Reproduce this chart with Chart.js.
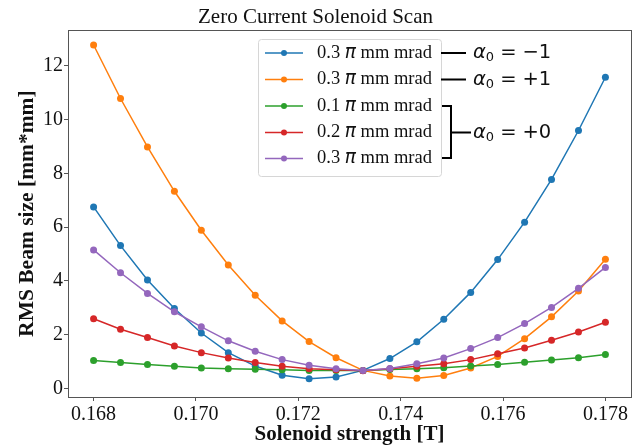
<!DOCTYPE html>
<html>
<head>
<meta charset="utf-8">
<title>Zero Current Solenoid Scan</title>
<script src="https://cdn.jsdelivr.net/npm/chart.js@4.4.1/dist/chart.umd.min.js"></script>
<style>
    html, body { margin: 0; padding: 0; background: #fff; }
    #wrap { width: 637px; height: 445px; }
</style>
</head>
<body>
<div id="wrap"><canvas id="scanChart" width="637" height="445"></canvas></div>
<script>
// solenoid strength [T]
const strength = [0.168000, 0.168526, 0.169053, 0.169579, 0.170105, 0.170632, 0.171158, 0.171684, 0.172211, 0.172737,
                  0.173263, 0.173789, 0.174316, 0.174842, 0.175368, 0.175895, 0.176421, 0.176947, 0.177474, 0.178000];

// RMS beam size [mm*mm]
const alphaMinus1_03 = [6.75, 5.31, 4.03, 2.97, 2.06, 1.33, 0.83, 0.49, 0.36, 0.42, 0.67, 1.11, 1.73, 2.57, 3.57, 4.79, 6.18, 7.77, 9.59, 11.57];
const alphaPlus1_03 = [12.77, 10.78, 8.98, 7.33, 5.88, 4.59, 3.46, 2.51, 1.74, 1.14, 0.67, 0.46, 0.38, 0.48, 0.76, 1.19, 1.85, 2.66, 3.62, 4.80];
const alphaZero_01 = [1.04, 0.96, 0.89, 0.82, 0.76, 0.73, 0.71, 0.69, 0.67, 0.67, 0.67, 0.70, 0.73, 0.77, 0.83, 0.89, 0.97, 1.06, 1.14, 1.26];
const alphaZero_02 = [2.59, 2.20, 1.89, 1.58, 1.33, 1.13, 0.96, 0.82, 0.73, 0.69, 0.66, 0.73, 0.82, 0.92, 1.07, 1.29, 1.50, 1.79, 2.10, 2.46];
const alphaZero_03 = [5.15, 4.30, 3.53, 2.85, 2.29, 1.77, 1.38, 1.07, 0.86, 0.73, 0.67, 0.74, 0.92, 1.13, 1.48, 1.89, 2.41, 3.01, 3.72, 4.50];

const seriesLabels = ['0.3', '0.3', '0.1', '0.2', '0.3'];
const seriesValues = [alphaMinus1_03, alphaPlus1_03, alphaZero_01, alphaZero_02, alphaZero_03];
const seriesColors = ['#1f77b4', '#ff7f0e', '#2ca02c', '#d62728', '#9467bd'];

const xTicks = [0.168, 0.170, 0.172, 0.174, 0.176, 0.178];
const yTicks = [0, 2, 4, 6, 8, 10, 12];

const serif = "'Liberation Serif', 'Times New Roman', serif";
const sans = "'DejaVu Sans', sans-serif";

function makeDataset(i) {
    return {
        label: seriesLabels[i] + ' \u03C0 mm mrad',
        emittance: seriesLabels[i],
        data: strength.map(function (s, k) { return { x: s, y: seriesValues[i][k] }; }),
        borderColor: seriesColors[i],
        backgroundColor: seriesColors[i],
        pointBackgroundColor: seriesColors[i],
        pointBorderWidth: 0,
        pointRadius: 3.5,
        borderWidth: 1.5,
        tension: 0,
        order: 5 - i
    };
}

// frame round the plot area, like matplotlib spines
const framePlugin = {
    id: 'frame',
    afterDatasetsDraw: function (chart) {
        const a = chart.chartArea;
        const ctx = chart.ctx;
        ctx.save();
        ctx.strokeStyle = '#555';
        ctx.lineWidth = 1;
        ctx.strokeRect(Math.round(a.left) + 0.5, Math.round(a.top) + 0.5,
            Math.round(a.right - a.left), Math.round(a.bottom - a.top));
        ctx.restore();
    }
};

// legend box inside the axes plus the alpha_0 notes beside it
const legendPlugin = {
    id: 'insideLegend',
    afterDraw: function (chart) {
        const ctx = chart.ctx;
        const box = { x: 258, y: 39, w: 183, h: 137 };
        const rowY = [53, 79.5, 106, 132.5, 158.5];

        ctx.save();
        ctx.fillStyle = 'rgba(255,255,255,0.85)';
        ctx.strokeStyle = '#d6d6d6';
        ctx.lineWidth = 1;
        ctx.beginPath();
        ctx.roundRect(box.x + 0.5, box.y + 0.5, box.w, box.h, 3);
        ctx.fill();
        ctx.stroke();

        chart.data.datasets.forEach(function (ds, i) {
            const y = rowY[i];
            ctx.strokeStyle = ds.borderColor;
            ctx.lineWidth = 1.5;
            ctx.beginPath();
            ctx.moveTo(265, y);
            ctx.lineTo(303, y);
            ctx.stroke();
            ctx.fillStyle = ds.borderColor;
            ctx.beginPath();
            ctx.arc(284, y, 3, 0, Math.PI * 2);
            ctx.fill();

            ctx.fillStyle = '#111';
            ctx.textBaseline = 'middle';
            ctx.textAlign = 'left';
            let x = 317;
            ctx.font = '18.5px ' + serif;
            ctx.fillText(ds.emittance + ' ', x, y);
            x += ctx.measureText(ds.emittance + ' ').width;
            ctx.font = 'italic 18.5px ' + sans;
            ctx.fillText('\u03C0', x, y);
            x += ctx.measureText('\u03C0').width;
            ctx.font = '18.5px ' + serif;
            ctx.fillText(' mm mrad', x, y);
        });

        // dashes and bracket
        ctx.strokeStyle = '#000';
        ctx.lineWidth = 2;
        ctx.beginPath();
        ctx.moveTo(441, 53); ctx.lineTo(466, 53);
        ctx.moveTo(441, 79.5); ctx.lineTo(466, 79.5);
        ctx.moveTo(442, 106); ctx.lineTo(451, 106); ctx.lineTo(451, 158); ctx.lineTo(442, 158);
        ctx.moveTo(451, 132.5); ctx.lineTo(471, 132.5);
        ctx.stroke();

        const notes = [['\u22121', 53], ['+1', 79.5], ['+0', 132.5]];
        notes.forEach(function (n) {
            let x = 473;
            const y = n[1];
            ctx.fillStyle = '#111';
            ctx.textBaseline = 'middle';
            ctx.font = 'italic 19.5px ' + sans;
            ctx.fillText('\u03B1', x, y);
            x += ctx.measureText('\u03B1').width;
            ctx.font = '13px ' + sans;
            ctx.fillText('0', x, y + 5);
            x += ctx.measureText('0').width + 6;
            ctx.font = '19.5px ' + sans;
            ctx.fillText('=', x, y);
            x += ctx.measureText('=').width + 6;
            ctx.fillText(n[0], x, y);
        });
        ctx.restore();
    }
};

const ctx = document.getElementById('scanChart');

new Chart(ctx, {
    type: 'line',
    data: {
        datasets: [0, 1, 2, 3, 4].map(makeDataset)
    },
    options: {
        responsive: false,
        animation: false,
        devicePixelRatio: 1,
        layout: {
            padding: { left: 0, right: 6, top: 0, bottom: 0 }
        },
        scales: {
            x: {
                type: 'linear',
                min: 0.1675,
                max: 0.1785,
                afterBuildTicks: function (scale) {
                    scale.ticks = xTicks.map(function (v) { return { value: v }; });
                },
                afterFit: function (scale) { scale.height = 48; },
                ticks: {
                    color: '#111',
                    padding: 2,
                    maxRotation: 0,
                    font: { family: serif, size: 20 },
                    callback: function (value) { return value.toFixed(3); }
                },
                grid: {
                    drawOnChartArea: false,
                    tickLength: 4,
                    color: '#555'
                },
                border: { display: false },
                title: {
                    display: true,
                    text: 'Solenoid strength [T]',
                    color: '#111',
                    padding: { top: 0, bottom: -2 },
                    font: { family: serif, size: 21, weight: 'bold' }
                }
            },
            y: {
                type: 'linear',
                min: -0.32,
                max: 13.32,
                afterBuildTicks: function (scale) {
                    scale.ticks = yTicks.map(function (v) { return { value: v }; });
                },
                afterFit: function (scale) { scale.width = 68; },
                ticks: {
                    color: '#111',
                    padding: 1,
                    font: { family: serif, size: 20 }
                },
                grid: {
                    drawOnChartArea: false,
                    tickLength: 4,
                    color: '#555'
                },
                border: { display: false },
                title: {
                    display: true,
                    text: 'RMS Beam size [mm*mm]',
                    color: '#111',
                    padding: { top: 15, bottom: 0 },
                    font: { family: serif, size: 21.5, weight: 'bold' }
                }
            }
        },
        plugins: {
            legend: { display: false },
            tooltip: { enabled: false },
            title: {
                display: true,
                text: 'Zero Current Solenoid Scan',
                color: '#111',
                padding: { top: 5, bottom: 0 },
                font: { family: serif, size: 21, weight: 'normal' }
            }
        }
    },
    plugins: [framePlugin, legendPlugin]
});
</script>
</body>
</html>
